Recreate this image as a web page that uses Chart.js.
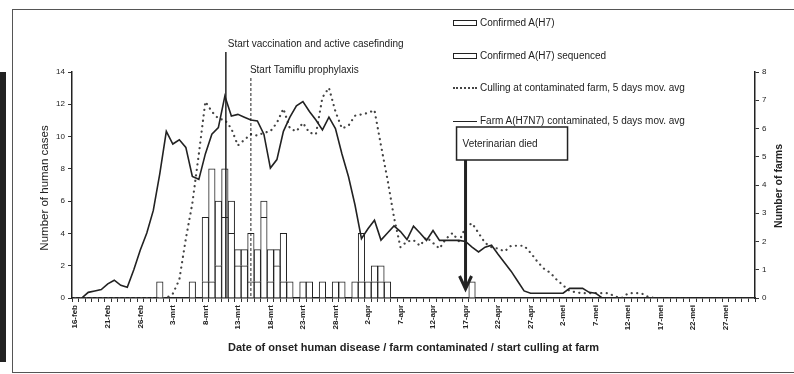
<!DOCTYPE html>
<html lang="nl">
<head>
<meta charset="UTF-8">
<title>Human cases and contaminated farms</title>
<script src="https://cdn.jsdelivr.net/npm/chart.js"></script>
<style>
    html, body { margin: 0; padding: 0; background: #fff; }
    body {
        width: 794px; height: 374px; position: relative; overflow: hidden;
        font-family: "Liberation Sans", Arial, sans-serif; color: #222;
    }
    .frame {
        position: absolute; left: 12px; top: 9px; width: 800px; height: 362px;
        border: 1px solid #555; border-right: none;
    }
    .scanbar { position: absolute; left: 0; top: 72px; width: 6px; height: 290px; background: #222; }
    #chart { position: absolute; left: 0; top: 0; }
    #legend { position: absolute; left: 453px; top: 0; font-size: 10px; }
    #legend .item { position: absolute; left: 0; white-space: nowrap; height: 12px; line-height: 12px; }
    #legend .sym { display: inline-block; width: 24px; margin-right: 3px; vertical-align: middle; box-sizing: border-box; }
    #legend .box { height: 6px; border: 1px solid #222; background: #fff; }
    #legend .dots { height: 0; border-top: 2px dotted #444; }
    #legend .solid { height: 0; border-top: 1.3px solid #222; }
</style>
</head>
<body>
    <div class="frame"></div>
    <div class="scanbar"></div>
    <canvas id="chart" width="794" height="374"></canvas>
    <div id="legend"></div>

    <script>
        // dagen 16-feb t/m 31-mei
        const months = [['feb', 16, 28], ['mrt', 1, 31], ['apr', 1, 30], ['mei', 1, 31]];
        const days = [];
        months.forEach(([m, from, to]) => {
            for (let d = from; d <= to; d++) days.push(d + '-' + m);
        });

        const tickLabels = ['16-feb', '21-feb', '26-feb', '3-mrt', '8-mrt', '13-mrt', '18-mrt',
            '23-mrt', '28-mrt', '2-apr', '7-apr', '12-apr', '17-apr', '22-apr', '27-apr',
            '2-mei', '7-mei', '12-mei', '17-mei', '22-mei', '27-mei'];

        // human cases per day (stacked)
        const confirmed = [
            null, null, null, null, null, null, null, null, null, null, null, null, null, 1, null,
            null, null, null, 1, null, 1, 1, 2, 5, 4, 2, 2, 1, 1, 5,
            1, 2, 1, 1, null, 1, 1, null, 1, null, 1, 1, null, 1, 1,
            1, 1, 1, 1, null, null, null, null, null, null, null, null, null, null, null,
            null, 1, null, null, null, null, null, null, null, null, null, null, null, null, null,
            null, null, null, null, null, null, null, null, null, null, null, null, null, null, null,
            null, null, null, null, null, null, null, null, null, null, null, null, null, null, null
        ];
        const sequenced = [
            null, null, null, null, null, null, null, null, null, null, null, null, null, null, null,
            null, null, null, null, null, 4, 7, 4, 3, 2, 1, 1, 3, 2, 1,
            2, 1, 3, null, null, null, null, null, null, null, null, null, null, null, 3,
            null, 1, 1, null, null, null, null, null, null, null, null, null, null, null, null,
            null, null, null, null, null, null, null, null, null, null, null, null, null, null, null,
            null, null, null, null, null, null, null, null, null, null, null, null, null, null, null,
            null, null, null, null, null, null, null, null, null, null, null, null, null, null, null
        ];

        // farms, 5 days moving average (right axis)
        const culling = [
            0, 0, 0, 0, 0, 0, 0, 0, 0, 0, 0, 0, 0, 0, 0,
            0.15, 0.65, 2.1, 3.35, 5.1, 6.95, 6.6, 6.35, 6.3, 6.0, 5.4, 5.6, 5.8, 5.75, 5.85,
            5.9, 6.2, 6.7, 6.0, 5.9, 6.2, 5.85, 5.8, 7.1, 7.44, 6.6, 6.0, 6.1, 6.45, 6.5,
            6.55, 6.65, 5.4, 4.2, 2.86, 1.8, 2.0, 2.05, 1.85, 2.15, 1.95, 1.75, 2.1, 2.3, 2.0,
            2.5, 2.65, 2.3, 1.95, 1.8, 1.75, 1.65, 1.85, 1.85, 1.85, 1.6, 1.3, 1.05, 0.9, 0.65,
            0.45, 0.25, 0.2, 0.17, 0.17, 0.17, 0.17, 0.17, 0.05, 0, 0.17, 0.17, 0.17, 0.05, 0,
            0, 0, 0, 0, 0, null, null, null, null, null, null, null, null, null, null
        ];
        const contaminated = [
            null, 0, 0.2, 0.25, 0.3, 0.5, 0.63, 0.45, 0.38, 1.0, 1.7, 2.3, 3.1, 4.4, 5.9,
            5.45, 5.6, 5.33, 4.3, 4.2, 5.1, 5.8, 6.03, 7.15, 6.44, 6.5, 6.4, 6.3, 6.27, 5.8,
            4.6, 4.9, 5.9, 6.4, 6.8, 6.95, 6.6, 6.3, 5.95, 6.4, 6.0, 5.1, 4.3, 3.3, 2.1,
            2.45, 2.75, 2.05, 2.3, 2.55, 2.35, 2.07, 2.54, 2.3, 2.04, 2.39, 2.04, 2.04, 2.04, 2.04,
            2.0, 1.8, 1.63, 1.8, 1.87, 1.55, 1.25, 0.95, 0.6, 0.25, 0.17, 0.17, 0.17, 0.17, 0.17,
            0.17, 0.34, 0.34, 0.34, 0.2, 0.17, 0, 0, 0, 0, 0, 0, 0, 0, 0,
            0, 0, 0, 0, 0, null, null, null, null, null, null, null, null, null, null
        ];

        const vaccinationDate = '11-mrt';
        const tamifluDate = '15-mrt';
        const vetDate = '17-apr';

        const FONT = '"Liberation Sans", Arial, sans-serif';

        // annotaties, lijnen en astitels
        const annotations = {
            id: 'annotations',
            afterDatasetsDraw(chart) {
                const { ctx, chartArea, scales: { x } } = chart;
                const bottom = chartArea.bottom;
                ctx.save();
                ctx.fillStyle = '#222';
                ctx.strokeStyle = '#222';
                ctx.font = '10px ' + FONT;
                ctx.textBaseline = 'middle';

                const xVac = x.getPixelForValue(days.indexOf(vaccinationDate)) + 1;
                ctx.lineWidth = 1.5;
                ctx.beginPath(); ctx.moveTo(xVac, 52); ctx.lineTo(xVac, bottom); ctx.stroke();
                ctx.fillText('Start vaccination and active casefinding', xVac + 2, 44);

                const xTam = x.getPixelForValue(days.indexOf(tamifluDate));
                ctx.lineWidth = 1;
                ctx.setLineDash([3, 2]);
                ctx.beginPath(); ctx.moveTo(xTam, 78); ctx.lineTo(xTam, bottom); ctx.stroke();
                ctx.setLineDash([]);
                ctx.fillText('Start Tamiflu prophylaxis', xTam - 1, 70);

                const xVet = x.getPixelForValue(days.indexOf(vetDate));
                ctx.lineWidth = 1.5;
                ctx.fillStyle = '#fff';
                ctx.fillRect(xVet - 9, 127, 111, 33);
                ctx.strokeRect(xVet - 9, 127, 111, 33);
                ctx.fillStyle = '#222';
                ctx.fillText('Veterinarian died', xVet - 3, 144);
                ctx.lineWidth = 3;
                ctx.beginPath(); ctx.moveTo(xVet, 160); ctx.lineTo(xVet, bottom - 10); ctx.stroke();
                ctx.beginPath();
                ctx.moveTo(xVet - 6, bottom - 22);
                ctx.lineTo(xVet, bottom - 9);
                ctx.lineTo(xVet + 6, bottom - 22);
                ctx.stroke();
                ctx.restore();
            },
            afterDraw(chart) {
                const { ctx, chartArea } = chart;
                ctx.save();
                ctx.fillStyle = '#222';
                ctx.textAlign = 'center';
                ctx.textBaseline = 'middle';

                ctx.save();
                ctx.translate(45, 188);
                ctx.rotate(-Math.PI / 2);
                ctx.font = '11.5px ' + FONT;
                ctx.fillText('Number of human cases', 0, 0);
                ctx.restore();

                ctx.save();
                ctx.translate(779, 186);
                ctx.rotate(-Math.PI / 2);
                ctx.font = 'bold 10.5px ' + FONT;
                ctx.fillText('Number of farms', 0, 0);
                ctx.restore();

                ctx.font = 'bold 11px ' + FONT;
                ctx.fillText('Date of onset human disease / farm contaminated / start culling at farm',
                    (chartArea.left + chartArea.right) / 2, 348);
                ctx.restore();
            }
        };

        const chart = new Chart(document.getElementById('chart'), {
            type: 'bar',
            data: {
                labels: days,
                datasets: [{
                    label: 'Confirmed A(H7)',
                    data: confirmed,
                    backgroundColor: '#fff',
                    borderColor: '#222',
                    borderWidth: 1,
                    barPercentage: 1,
                    categoryPercentage: 1,
                    order: 2
                }, {
                    label: 'Confirmed A(H7) sequenced',
                    data: sequenced,
                    backgroundColor: '#fff',
                    borderColor: '#222',
                    borderWidth: 1,
                    barPercentage: 1,
                    categoryPercentage: 1,
                    order: 2
                }, {
                    type: 'line',
                    label: 'Culling at contaminated farm, 5 days mov. avg',
                    data: culling,
                    yAxisID: 'y1',
                    borderColor: '#444',
                    borderWidth: 2.2,
                    borderDash: [0.1, 5.4],
                    borderCapStyle: 'round',
                    pointRadius: 0,
                    fill: false,
                    tension: 0,
                    order: 1
                }, {
                    type: 'line',
                    label: 'Farm A(H7N7) contaminated, 5 days mov. avg',
                    data: contaminated,
                    yAxisID: 'y1',
                    borderColor: '#222',
                    borderWidth: 1.6,
                    pointRadius: 0,
                    fill: false,
                    tension: 0,
                    order: 0
                }]
            },
            options: {
                responsive: false,
                animation: false,
                layout: { padding: { left: 56, right: 27, top: 72, bottom: 41 } },
                plugins: { legend: { display: false }, tooltip: { enabled: false } },
                scales: {
                    x: {
                        stacked: true,
                        grid: { drawOnChartArea: false, tickLength: 4, color: '#333' },
                        border: { color: '#222', width: 1.5 },
                        ticks: {
                            autoSkip: false,
                            minRotation: 90,
                            maxRotation: 90,
                            padding: 3,
                            color: '#222',
                            font: { family: FONT, size: 8, weight: 'bold' },
                            callback: (v, i) => tickLabels.includes(days[i]) ? days[i] : ''
                        },
                        afterFit: s => { s.height = 35; }
                    },
                    y: {
                        stacked: true,
                        position: 'left',
                        min: 0,
                        max: 14,
                        ticks: { stepSize: 2, padding: 3, color: '#222', font: { family: FONT, size: 8 } },
                        grid: { drawOnChartArea: false, tickLength: 4, color: '#333' },
                        border: { color: '#222', width: 1.5 },
                        afterFit: s => { s.width = 16; }
                    },
                    y1: {
                        position: 'right',
                        min: 0,
                        max: 8,
                        ticks: { stepSize: 1, padding: 3, color: '#222', font: { family: FONT, size: 8 } },
                        grid: { drawOnChartArea: false, tickLength: 4, color: '#333' },
                        border: { color: '#222', width: 1.5 },
                        afterFit: s => { s.width = 12; }
                    }
                }
            },
            plugins: [annotations]
        });

        // legenda
        const legendTops = [17, 50, 82, 115];
        const symbols = ['box', 'box', 'dots', 'solid'];
        const legend = document.getElementById('legend');
        chart.data.datasets.forEach((ds, i) => {
            const item = document.createElement('div');
            item.className = 'item';
            item.style.top = legendTops[i] + 'px';
            item.innerHTML = `<span class="sym ${symbols[i]}"></span>${ds.label}`;
            legend.appendChild(item);
        });
    </script>
</body>
</html>
